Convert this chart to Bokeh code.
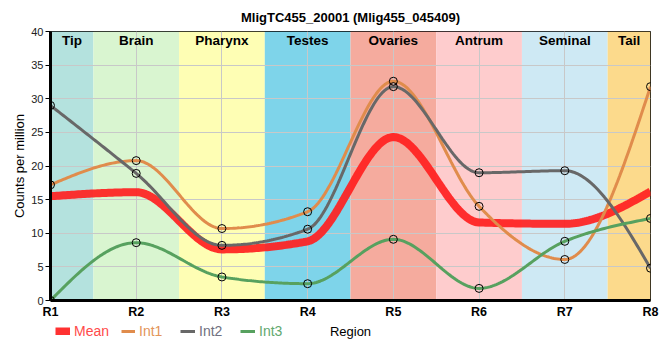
import numpy as np
from bokeh.plotting import figure
from bokeh.layouts import column
from bokeh.models import Range1d, FixedTicker, Legend, LegendItem
from bokeh.core.properties import value
from bokeh.embed import file_html
from bokeh.resources import INLINE

# ---- data ----
regions = ["R1", "R2", "R3", "R4", "R5", "R6", "R7", "R8"]
tissues = ["Tip", "Brain", "Pharynx", "Testes", "Ovaries", "Antrum", "Seminal", "Tail"]
tissue_colors = ["#b4e2de", "#d9f5d0", "#fefeb4", "#7ed4ea", "#f5ab9e", "#fecccd", "#cee9f4", "#fcda8c"]
mean_vals = [15.5, 16.1, 7.6, 8.8, 24.3, 11.6, 11.4, 16.2]
int1_vals = [17.2, 20.8, 10.7, 13.2, 32.6, 14.0, 6.1, 31.8]
int2_vals = [29.0, 18.9, 8.2, 10.6, 31.8, 19.0, 19.3, 4.8]
int3_vals = [0.0, 8.6, 3.5, 2.5, 9.1, 1.8, 8.8, 12.2]
y_ticks = [0, 5, 10, 15, 20, 25, 30, 35, 40]
series_names = ["Mean", "Int1", "Int2", "Int3"]
line_colors = ["#ff1f1f", "#e08c4c", "#686868", "#57a15f"]
label_colors = ["#ff4a4a", "#e3955a", "#707080", "#62a870"]

FONTNAME = "Liberation Sans"
FONT = value(FONTNAME)


def monotone_curve(xs, ys, n=40):
    """Monotone cubic (d3 curveMonotoneX) rendering of a series."""
    xs = np.asarray(xs, float)
    ys = np.asarray(ys, float)
    N = len(xs)
    h = np.diff(xs)
    s = np.diff(ys) / h
    t = np.zeros(N)
    for i in range(1, N - 1):
        h0, h1 = h[i - 1], h[i]
        s0, s1 = s[i - 1], s[i]
        p = (s0 * h1 + s1 * h0) / (h0 + h1)
        t[i] = (np.sign(s0) + np.sign(s1)) * min(abs(s0), abs(s1), 0.5 * abs(p))
    t[0] = (3 * s[0] - t[1]) / 2
    t[-1] = (3 * s[-1] - t[-2]) / 2
    outx, outy = [], []
    for i in range(N - 1):
        u = np.linspace(0, 1, n, endpoint=(i == N - 2))
        h00 = 2 * u**3 - 3 * u**2 + 1
        h10 = u**3 - 2 * u**2 + u
        h01 = -2 * u**3 + 3 * u**2
        h11 = u**3 - u**2
        outx.extend(xs[i] + u * h[i])
        outy.extend(h00 * ys[i] + h10 * h[i] * t[i] + h01 * ys[i + 1] + h11 * h[i] * t[i + 1])
    return outx, outy


xpos = list(range(1, len(regions) + 1))
xmin, xmax = xpos[0], xpos[-1]

p = figure(width=660, height=322, x_range=Range1d(xmin, xmax), y_range=Range1d(0, 40),
           output_backend="svg", toolbar_location=None,
           title="MligTC455_20001 (Mlig455_045409)",
           min_border_left=50, min_border_right=10, min_border_top=31, min_border_bottom=22)

p.title.align = "center"
p.title.offset = -20
p.title.standoff = 14
p.title.text_font = FONTNAME
p.title.text_font_size = "13px"
p.title.text_font_style = "bold"
p.title.text_color = "black"

p.background_fill_color = "white"
p.outline_line_color = "black"
p.outline_line_width = 1

# region bands
lefts = [max(x - 0.5, xmin) for x in xpos]
rights = [min(x + 0.5, xmax) for x in xpos]
p.quad(left=lefts, right=rights, bottom=0, top=40, fill_color=tissue_colors,
       line_color=None, level="image")
centers = [(l + r) / 2 for l, r in zip(lefts, rights)]
p.text(x=centers, y=[40] * len(centers), text=tissues, text_align="center",
       text_baseline="top", y_offset=1, text_font=FONT, text_font_size="13.5px",
       text_font_style="bold", text_color="black")

# lines
mx, my = monotone_curve(xpos, mean_vals)
p.line(mx, my, line_color=line_colors[0], line_alpha=0.92, line_width=8)
for vals, col in zip([int1_vals, int2_vals, int3_vals], line_colors[1:]):
    cx, cy = monotone_curve(xpos, vals)
    p.line(cx, cy, line_color=col, line_width=3)
for vals in [int1_vals, int2_vals, int3_vals]:
    p.scatter(xpos, vals, size=8, fill_color=None, line_color="black", line_width=1)

# axes
p.xaxis.ticker = FixedTicker(ticks=xpos)
p.xaxis.major_label_overrides = {x: r for x, r in zip(xpos, regions)}
p.xaxis.major_label_text_font = FONTNAME
p.xaxis.major_label_text_font_style = "bold"
p.xaxis.major_label_text_font_size = "12.5px"
p.xaxis.major_label_text_color = "black"
p.xaxis.major_label_standoff = 4
p.xaxis.major_tick_out = 0
p.xaxis.major_tick_in = 0
p.xaxis.minor_tick_out = 0
p.xaxis.minor_tick_in = 0
p.xaxis.axis_line_width = 3
p.xaxis.axis_line_color = "black"

p.yaxis.ticker = FixedTicker(ticks=y_ticks)
p.yaxis.major_label_text_font = FONTNAME
p.yaxis.major_label_text_font_size = "11px"
p.yaxis.major_label_text_color = "#222222"
p.yaxis.major_label_standoff = 2
p.yaxis.major_tick_out = 5
p.yaxis.major_tick_in = 0
p.yaxis.minor_tick_out = 0
p.yaxis.minor_tick_in = 0
p.yaxis.major_tick_line_color = "black"
p.yaxis.axis_line_width = 3
p.yaxis.axis_line_color = "black"
p.yaxis.axis_label = "Counts per million"
p.yaxis.axis_label_text_font = FONTNAME
p.yaxis.axis_label_text_font_size = "13px"
p.yaxis.axis_label_text_font_style = "normal"
p.yaxis.axis_label_text_color = "black"
p.yaxis.axis_label_standoff = 1

p.xgrid.grid_line_color = "#c8c8c8"
p.ygrid.grid_line_color = "#c8c8c8"

# ---- legend strip with the x-axis title (frame aligned with the main plot) ----
LH = 36
q = figure(width=660, height=LH, x_range=Range1d(50, 650), y_range=Range1d(0, LH),
           output_backend="svg", toolbar_location=None,
           x_axis_location=None, y_axis_location=None,
           min_border_left=50, min_border_right=10, min_border_top=0, min_border_bottom=0)
q.outline_line_color = None
q.xgrid.visible = False
q.ygrid.visible = False
q.text(x=[350], y=[LH - 9], text=["Region"], text_align="center", text_baseline="middle",
       text_font=FONT, text_font_size="13px", text_color="black")

legend_x = [5, 71, 130, 190]          # offsets from the frame's left edge, px
glyph_w = [15, 14, 15, 15]
widths = [8, 3, 3, 3]
alphas = [0.92, 1, 1, 1]
for name, col, tcol, lx, gw, lw, la in zip(series_names, line_colors, label_colors,
                                           legend_x, glyph_w, widths, alphas):
    r = q.line(x=[np.nan], y=[np.nan], line_color=col, line_width=lw, line_alpha=la)
    leg = Legend(items=[LegendItem(label=name, renderers=[r])], location=(lx, LH - 9 - 8),
                 orientation="horizontal", glyph_width=gw, glyph_height=8,
                 label_standoff=4, padding=0, margin=0, spacing=0,
                 border_line_color=None, background_fill_alpha=0,
                 label_text_font=FONTNAME, label_text_font_size="14px",
                 label_text_color=tcol, label_height=16, label_text_baseline="middle")
    q.add_layout(leg, "center")

layout = column(p, q, spacing=0)
open("out.html", "w").write(file_html(layout, INLINE))
